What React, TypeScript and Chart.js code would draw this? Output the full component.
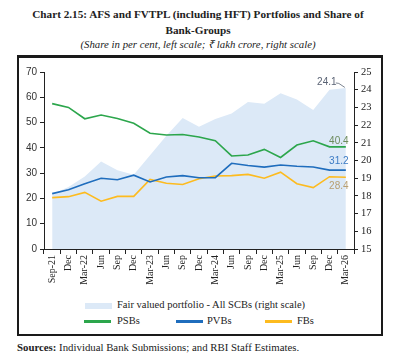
import React, { useEffect, useRef } from "react";
import { Chart, registerables } from "chart.js";

Chart.register(...registerables);

const categories = ["Sep-21", "Dec", "Mar-22", "Jun", "Sep", "Dec", "Mar-23", "Jun", "Sep", "Dec", "Mar-24", "Jun", "Sep", "Dec", "Mar-25", "Jun", "Sep", "Dec", "Mar-26"];
const fairValued = [18.1, 18.5, 19.1, 19.95, 19.45, 19.2, 20.3, 21.4, 22.4, 21.9, 22.35, 22.65, 23.3, 23.2, 23.8, 23.45, 22.85, 24.0, 24.1];
const psbs = [57.5, 56.0, 51.5, 53.0, 51.6, 49.7, 45.8, 45.1, 45.3, 44.3, 42.8, 36.8, 37.2, 39.4, 36.2, 41.1, 42.8, 40.4, 40.4];
const pvbs = [21.9, 23.4, 25.8, 28.0, 27.4, 29.2, 26.5, 28.5, 29.0, 28.2, 28.2, 33.9, 33.0, 32.4, 33.2, 32.7, 32.4, 31.2, 31.2];
const fbs = [20.3, 20.7, 22.4, 18.9, 20.8, 20.8, 27.5, 26.0, 25.5, 27.8, 28.9, 29.0, 29.5, 28.0, 30.4, 25.8, 24.3, 28.6, 28.4];
const leftTicks = [0, 10, 20, 30, 40, 50, 60, 70];
const rightTicks = [15, 16, 17, 18, 19, 20, 21, 22, 23, 24, 25];

const GREEN = "#2ca64c";
const BLUE = "#1f6dbd";
const YELLOW = "#fdbb1f";
const AREA = "#dce9f7";

const endLabels = {
  id: "endLabels",
  afterDatasetsDraw(chart: any) {
    const ctx = chart.ctx;
    const n = categories.length - 1;
    const pt = (i: number) => chart.getDatasetMeta(i).data[n];
    ctx.save();
    ctx.font = '10px "Liberation Sans"';
    ctx.textAlign = "center";
    ctx.textBaseline = "middle";
    const a = pt(3);
    ctx.fillStyle = "#5b6475";
    ctx.fillText(fairValued[n].toFixed(1), a.x - 19, a.y - 6);
    ctx.strokeStyle = "#5b6475";
    ctx.lineWidth = 0.8;
    ctx.beginPath();
    ctx.moveTo(a.x - 10, a.y - 5);
    ctx.lineTo(a.x - 7, a.y - 4.5);
    ctx.lineTo(a.x - 1, a.y - 0.5);
    ctx.stroke();
    const g = pt(0);
    ctx.fillStyle = "#6c8a5c";
    ctx.fillText(psbs[n].toFixed(1), g.x - 7, g.y - 6);
    const b = pt(1);
    ctx.fillStyle = "#3b7bc4";
    ctx.fillText(pvbs[n].toFixed(1), b.x - 7, b.y - 9);
    const y = pt(2);
    ctx.fillStyle = "#b89f72";
    ctx.fillText(fbs[n].toFixed(1), y.x - 7, y.y + 9);
    ctx.restore();
  },
};

export default function App() {
  const ref = useRef<HTMLCanvasElement>(null);
  useEffect(() => {
    if (!ref.current) return;
    const lineDs = (label: string, data: number[], color: string) => ({
      label,
      data,
      borderColor: color,
      backgroundColor: color,
      borderWidth: 1.6,
      pointRadius: 0,
      tension: 0,
      fill: false,
      yAxisID: "y",
      order: 0,
    });
    const chart = new Chart(ref.current, {
      type: "line",
      data: {
        labels: categories,
        datasets: [
          lineDs("PSBs", psbs, GREEN),
          lineDs("PVBs", pvbs, BLUE),
          lineDs("FBs", fbs, YELLOW),
          {
            label: "Fair valued portfolio - All SCBs (right scale)",
            data: fairValued,
            borderWidth: 0,
            borderColor: AREA,
            backgroundColor: AREA,
            pointRadius: 0,
            tension: 0,
            fill: "start",
            yAxisID: "y1",
            order: 10,
          },
        ],
      },
      options: {
        responsive: false,
        animation: false,
        devicePixelRatio: 1,
        layout: { padding: { top: 13, left: 0, right: 0, bottom: 0 } },
        plugins: { legend: { display: false }, tooltip: { enabled: false } },
        scales: {
          x: {
            type: "category",
            offset: true,
            grid: { offset: true, drawOnChartArea: false, tickLength: 5, color: "#222", lineWidth: 1 },
            border: { display: true, color: "#222", width: 1 },
            ticks: {
              autoSkip: false,
              maxRotation: 90,
              minRotation: 90,
              padding: 1,
              color: "#222",
              font: { family: '"Liberation Serif"', size: 10 },
            },
            afterFit: (s: any) => {
              s.height = 47;
            },
          },
          y: {
            position: "left",
            min: 0,
            max: 70,
            afterBuildTicks: (s: any) => {
              s.ticks = leftTicks.map((v) => ({ value: v }));
            },
            grid: { drawOnChartArea: false, tickLength: 4, color: "#222" },
            border: { display: true, color: "#222", width: 1 },
            ticks: { padding: 3, color: "#333", font: { family: '"Liberation Sans"', size: 10 } },
            afterFit: (s: any) => {
              s.width = 25;
            },
          },
          y1: {
            position: "right",
            min: 15,
            max: 25,
            afterBuildTicks: (s: any) => {
              s.ticks = rightTicks.map((v) => ({ value: v }));
            },
            grid: { drawOnChartArea: false, tickLength: 4, color: "#222" },
            border: { display: true, color: "#222", width: 1 },
            ticks: { padding: 3, color: "#222", font: { family: '"Liberation Serif"', size: 10.5 } },
            afterFit: (s: any) => {
              s.width = 27;
            },
          },
        },
      },
      plugins: [endLabels],
    } as any);
    return () => chart.destroy();
  }, []);

  const serif = '"Liberation Serif", serif';
  const legendText: React.CSSProperties = {
    position: "absolute",
    fontFamily: serif,
    fontSize: 10.5,
    lineHeight: "12px",
    color: "#222",
    whiteSpace: "nowrap",
  };
  const lineSwatch = (left: number, color: string): React.CSSProperties => ({
    position: "absolute",
    left,
    top: 320,
    width: 27,
    height: 2.5,
    background: color,
  });

  return (
    <div style={{ position: "absolute", left: 0, top: 0, width: 396, height: 360, background: "#fff", overflow: "hidden" }}>
      <div
        style={{
          position: "absolute",
          left: 0,
          top: 7,
          width: 396,
          textAlign: "center",
          fontFamily: serif,
          fontWeight: "bold",
          fontSize: 11.2,
          lineHeight: "15.5px",
          color: "#222",
        }}
      >
        Chart 2.15: AFS and FVTPL (including HFT) Portfolios and Share of
        <br />
        Bank-Groups
      </div>
      <div
        style={{
          position: "absolute",
          left: 0,
          top: 37.5,
          width: 396,
          textAlign: "center",
          fontFamily: serif,
          fontStyle: "italic",
          fontSize: 10.8,
          lineHeight: "12px",
          color: "#222",
        }}
      >
        (Share in per cent, left scale; ₹ lakh crore, right scale)
      </div>
      <div
        style={{
          position: "absolute",
          left: 17,
          top: 55,
          width: 366,
          height: 281,
          boxSizing: "border-box",
          border: "2px solid #1a1a1a",
          borderTop: "3px solid #1a1a1a",
        }}
      />
      <canvas
        ref={ref}
        width={362}
        height={237}
        style={{ position: "absolute", left: 19, top: 59, width: 362, height: 237 }}
      />
      <div style={{ position: "absolute", left: 85, top: 302.5, width: 27, height: 6, background: AREA }} />
      <div style={{ ...legendText, left: 117, top: 299 }}>Fair valued portfolio - All SCBs (right scale)</div>
      <div style={lineSwatch(84, GREEN)} />
      <div style={{ ...legendText, left: 117, top: 315 }}>PSBs</div>
      <div style={lineSwatch(176, BLUE)} />
      <div style={{ ...legendText, left: 207, top: 315 }}>PVBs</div>
      <div style={lineSwatch(265, YELLOW)} />
      <div style={{ ...legendText, left: 297, top: 315 }}>FBs</div>
      <div
        style={{
          position: "absolute",
          left: 17,
          top: 341,
          fontFamily: serif,
          fontSize: 10.8,
          lineHeight: "12px",
          color: "#222",
          whiteSpace: "nowrap",
        }}
      >
        <b>Sources:</b> Individual Bank Submissions; and RBI Staff Estimates.
      </div>
    </div>
  );
}
